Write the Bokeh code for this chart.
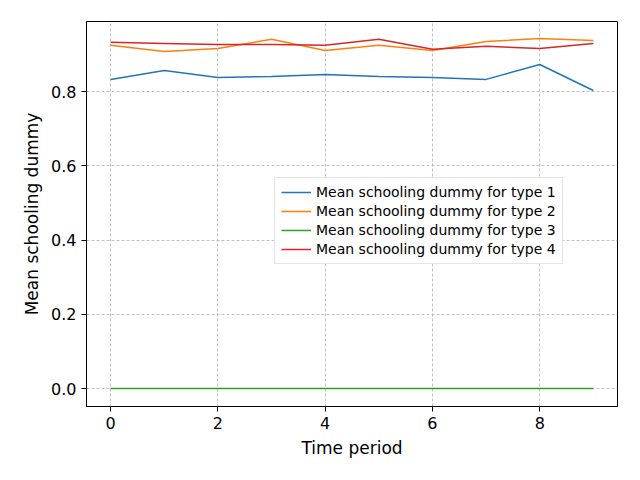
from bokeh.plotting import figure
from bokeh.models import Range1d, Legend, CustomJSTickFormatter
from bokeh.embed import file_html
from bokeh.resources import INLINE

periods = list(range(10))
type1 = [0.833, 0.857, 0.838, 0.841, 0.846, 0.841, 0.838, 0.833, 0.873, 0.803]
type2 = [0.925, 0.908, 0.916, 0.941, 0.911, 0.925, 0.911, 0.935, 0.943, 0.938]
type3 = [0.0] * 10
type4 = [0.933, 0.930, 0.927, 0.927, 0.925, 0.941, 0.914, 0.922, 0.916, 0.930]

font = "DejaVu Sans"
p = figure(width=624, height=464, output_backend="svg", toolbar_location=None,
           x_range=Range1d(-0.45, 9.45), y_range=Range1d(-0.0485, 0.989),
           x_axis_label="Time period", y_axis_label="Mean schooling dummy",
           min_border_left=86, min_border_right=7, min_border_top=21, min_border_bottom=58)
p.outline_line_color = "black"
p.xaxis.ticker = [0, 2, 4, 6, 8]
p.yaxis.ticker = [0.0, 0.2, 0.4, 0.6, 0.8]
p.yaxis.formatter = CustomJSTickFormatter(code="return tick.toFixed(1)")
for ax in [p.xaxis, p.yaxis]:
    ax.major_label_text_font = font
    ax.major_label_text_font_size = "16px"
    ax.major_label_text_color = "black"
    ax.axis_label_text_font = font
    ax.axis_label_text_font_size = "17px"
    ax.axis_label_text_color = "black"
    ax.axis_label_text_font_style = "normal"
    ax.axis_label_standoff = 6
    ax.minor_tick_line_color = None
    ax.major_tick_out = 5
    ax.major_tick_in = 0
    ax.axis_line_color = "black"
p.grid.grid_line_color = "#b0b0b0"
p.grid.grid_line_dash = "3 2"
p.grid.grid_line_alpha = 0.8

colors = ["#1f77b4", "#ff7f0e", "#2ca02c", "#d62728"]
items = []
for i, (vals, c) in enumerate(zip([type1, type2, type3, type4], colors)):
    r = p.line(periods, vals, line_color=c, line_width=1.5)
    items.append((f"Mean schooling dummy for type {i + 1}", [r]))

legend = Legend(items=items)
legend.label_text_font = font
legend.label_text_font_size = "14px"
legend.label_text_color = "black"
legend.glyph_height = 14
legend.glyph_width = 30
legend.spacing = 3
legend.padding = 6
legend.border_line_color = "#cccccc"
legend.location = (188, 142)
p.add_layout(legend)

open("out.html", "w").write(file_html(p, INLINE))
